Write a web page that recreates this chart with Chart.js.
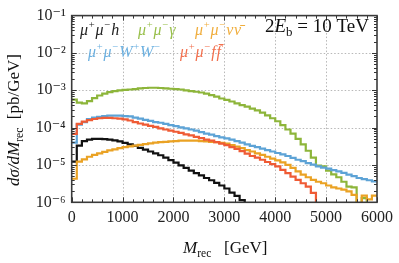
<!DOCTYPE html>
<html><head><meta charset="utf-8">
<script src="https://cdn.jsdelivr.net/npm/chart.js@4.4.1/dist/chart.umd.min.js"></script>
<style>html,body{margin:0;padding:0;background:#fff;}#wrap{width:399px;height:263px;position:relative;}</style>
</head><body><div id="wrap"><canvas id="c" width="399" height="263"></canvas></div>
<script>
// ---- data (dσ/dM_rec in pb/GeV, 100 GeV bins from 0 to 6000 GeV; 0 = empty bin) ----
const BIN_WIDTH = 100;
const X_TICKS = [0, 1000, 2000, 3000, 4000, 5000, 6000];
const Y_TICKS = [1e-6, 1e-5, 1e-4, 1e-3, 1e-2, 1e-1];

const mumuH = [1.23e-5,3.31e-5,4.37e-5,4.79e-5,5.01e-5,5.01e-5,4.90e-5,4.79e-5,4.57e-5,4.27e-5,
  3.89e-5,3.55e-5,3.24e-5,2.88e-5,2.57e-5,2.29e-5,2.04e-5,1.82e-5,1.58e-5,1.35e-5,
  1.15e-5,9.77e-6,8.32e-6,7.08e-6,6.03e-6,5.25e-6,4.47e-6,3.89e-6,3.31e-6,2.82e-6,
  2.34e-6,1.82e-6,1.48e-6,1.15e-6,0,0,0,0,0,0,
  0,0,0,0,0,0,0,0,0,0, 0,0,0,0,0,0,0,0,0,0];
const mumuGamma = [5.62e-4,4.68e-4,4.47e-4,5.13e-4,6.17e-4,7.24e-4,8.13e-4,8.91e-4,9.55e-4,1.00e-3,
  1.02e-3,1.05e-3,1.07e-3,1.12e-3,1.15e-3,1.17e-3,1.17e-3,1.15e-3,1.12e-3,1.10e-3,
  1.07e-3,1.05e-3,1.00e-3,9.55e-4,9.12e-4,8.71e-4,8.13e-4,7.41e-4,6.76e-4,6.03e-4,
  5.50e-4,5.01e-4,4.47e-4,3.98e-4,3.63e-4,3.24e-4,2.88e-4,2.51e-4,2.14e-4,1.78e-4,
  1.48e-4,1.17e-4,8.91e-5,6.92e-5,5.01e-5,3.55e-5,2.40e-5,1.58e-5,9.55e-6,9.12e-6,
  7.08e-6,5.62e-6,4.68e-6,3.55e-6,2.63e-6,2.51e-6,0,1.29e-6,0,0];
const mumuNuNu = [4.27e-6,1.23e-5,1.41e-5,1.66e-5,1.86e-5,2.04e-5,2.24e-5,2.45e-5,2.63e-5,2.82e-5,
  3.02e-5,3.16e-5,3.31e-5,3.47e-5,3.63e-5,3.80e-5,3.98e-5,4.07e-5,4.17e-5,4.27e-5,
  4.37e-5,4.47e-5,4.47e-5,4.47e-5,4.47e-5,4.37e-5,4.27e-5,4.17e-5,4.07e-5,3.89e-5,
  3.72e-5,3.39e-5,3.09e-5,2.82e-5,2.51e-5,2.29e-5,2.04e-5,1.86e-5,1.66e-5,1.48e-5,
  1.32e-5,1.17e-5,1.00e-5,8.32e-6,6.76e-6,5.50e-6,4.68e-6,3.98e-6,3.55e-6,3.24e-6,
  2.82e-6,2.51e-6,2.34e-6,2.19e-6,1.95e-6,1.58e-6,0,1.51e-6,1.20e-6,1.51e-6];
const mumuWW = [3.98e-5,1.20e-4,1.41e-4,1.70e-4,1.86e-4,1.95e-4,2.04e-4,2.09e-4,2.09e-4,2.09e-4,
  2.04e-4,2.00e-4,1.86e-4,1.74e-4,1.62e-4,1.51e-4,1.41e-4,1.35e-4,1.26e-4,1.17e-4,
  1.10e-4,1.02e-4,9.55e-5,8.91e-5,8.32e-5,7.59e-5,6.92e-5,6.46e-5,5.89e-5,5.50e-5,
  5.13e-5,4.79e-5,4.37e-5,3.98e-5,3.55e-5,3.24e-5,3.02e-5,2.75e-5,2.51e-5,2.29e-5,
  2.09e-5,1.91e-5,1.74e-5,1.55e-5,1.38e-5,1.26e-5,1.12e-5,1.02e-5,9.12e-6,8.51e-6,
  7.94e-6,7.24e-6,6.76e-6,6.17e-6,5.50e-6,5.01e-6,4.47e-6,4.17e-6,3.89e-6,3.63e-6];
const mumuFF = [6.76e-5,1.26e-4,1.45e-4,1.58e-4,1.70e-4,1.78e-4,1.82e-4,1.82e-4,1.78e-4,1.74e-4,
  1.66e-4,1.55e-4,1.41e-4,1.29e-4,1.20e-4,1.12e-4,1.05e-4,9.55e-5,8.91e-5,8.32e-5,
  7.76e-5,7.24e-5,6.61e-5,6.17e-5,5.62e-5,5.25e-5,4.79e-5,4.47e-5,4.07e-5,3.72e-5,
  3.39e-5,3.02e-5,2.69e-5,2.34e-5,2.00e-5,1.74e-5,1.58e-5,1.38e-5,1.20e-5,1.05e-5,
  9.12e-6,7.41e-6,6.03e-6,4.90e-6,3.98e-6,3.24e-6,2.63e-6,1.78e-6,0,0,
  0,0,0,0,0,0,0,0,0,0];

const SERIES = [
  {name:'h',  data: mumuH,     color:'#111111'},
  {name:'γ',  data: mumuGamma, color:'#8db53a'},
  {name:'νν̄', data: mumuNuNu,  color:'#eaa224'},
  {name:'WW', data: mumuWW,    color:'#5da3d6'},
  {name:'ff̄', data: mumuFF,    color:'#ef5b35'}
];

// histogram points: value of bin i holds from its lower edge to the next edge
function histPoints(vals){
  const pts = vals.map((v,i)=>({x:i*BIN_WIDTH, y: v>0 ? v : 1e-9}));
  const last = vals[vals.length-1];
  pts.push({x: vals.length*BIN_WIDTH, y: last>0 ? last : 1e-9});
  return pts;
}

const SUP = {'-':'⁻','0':'⁰','1':'¹','2':'²','3':'³','4':'⁴','5':'⁵','6':'⁶','7':'⁷','8':'⁸','9':'⁹'};
const FONT = '"Liberation Serif", "DejaVu Serif", serif';

function drawRich(ctx, x, y, parts, size, gap){
  gap = gap || 0;
  let cx = x;
  for (const [t,k] of parts){
    let fs = size, dy = 0, st = '';
    if (k==='i') st = 'italic ';
    if (k==='sup'){ fs = size*0.66; dy = -size*0.42; }
    if (k==='sub'){ fs = size*0.68; dy = size*0.22; }
    ctx.font = st + fs + 'px ' + FONT;
    ctx.fillText(t, cx, y+dy);
    cx += ctx.measureText(t).width + gap;
  }
  return cx - x;
}

const decor = {
  id:'decor',
  beforeDatasetsDraw(chart){
    const {ctx, chartArea:a, scales:{x,y}} = chart;
    ctx.save();
    ctx.strokeStyle = '#b8b8b8'; ctx.lineWidth = 1; ctx.setLineDash([1.5,2]);
    ctx.beginPath();
    X_TICKS.forEach(t=>{ if(t>x.min && t<x.max){ const p=Math.round(x.getPixelForValue(t))+0.5; ctx.moveTo(p,a.top); ctx.lineTo(p,a.bottom);} });
    Y_TICKS.forEach(t=>{ if(t>y.min && t<y.max){ const p=Math.round(y.getPixelForValue(t))+0.5; ctx.moveTo(a.left,p); ctx.lineTo(a.right,p);} });
    ctx.stroke();
    ctx.restore();
  },
  afterDatasetsDraw(chart){
    const {ctx, chartArea:a, scales:{x,y}} = chart;
    ctx.save();
    // inner ticks
    ctx.strokeStyle = '#333'; ctx.lineWidth = 1;
    ctx.beginPath();
    for (let v = x.min; v <= x.max; v += 200){
      const p = Math.round(x.getPixelForValue(v))+0.5;
      const L = (v % 1000 === 0) ? 5 : 3;
      ctx.moveTo(p,a.bottom); ctx.lineTo(p,a.bottom-L);
      ctx.moveTo(p,a.top); ctx.lineTo(p,a.top+L);
    }
    for (let e = -6; e < -1; e++){
      for (let m = 1; m <= 9; m++){
        const v = m*Math.pow(10,e);
        const p = Math.round(y.getPixelForValue(v))+0.5;
        const L = m===1 ? 5 : 3;
        ctx.moveTo(a.left,p); ctx.lineTo(a.left+L,p);
        ctx.moveTo(a.right,p); ctx.lineTo(a.right-L,p);
      }
    }
    ctx.stroke();
    // frame
    ctx.strokeStyle = '#3a3a3a'; ctx.lineWidth = 1.6;
    ctx.strokeRect(a.left, a.top, a.right-a.left, a.bottom-a.top);

    // annotations
    ctx.textBaseline = 'alphabetic';
    const S = 16, G = 0.8;
    ctx.fillStyle = '#222';
    drawRich(ctx, 80, 35, [['μ','i'],['+','sup'],['μ','i'],['−','sup'],['h','i']], S, G);
    ctx.fillStyle = '#98bf4a';
    drawRich(ctx, 138, 35, [['μ','i'],['+','sup'],['μ','i'],['−','sup'],['γ','i']], S, G);
    ctx.fillStyle = '#f0ad3c';
    drawRich(ctx, 195, 35, [['μ','i'],['+','sup'],['μ','i'],['−','sup'],['ν','i'],['ν̄','i']], S, G);
    ctx.fillStyle = '#6cb0e0';
    drawRich(ctx, 88, 57, [['μ','i'],['+','sup'],['μ','i'],['−','sup'],['W','i'],['+','sup'],['W','i'],['−','sup']], S, G);
    ctx.fillStyle = '#f2704e';
    drawRich(ctx, 180, 57, [['μ','i'],['+','sup'],['μ','i'],['−','sup'],['f','i'],['f̄','i']], S, G);
    ctx.fillStyle = '#111';
    drawRich(ctx, 265, 32, [['2',''],['E','i'],['b','sub'],[' = 10 TeV','']], 19);

    // axis titles
    ctx.fillStyle = '#111';
    drawRich(ctx, 183, 253, [['M','i'],['rec','sub'],['   [GeV]','']], 17);
    ctx.translate(19, 186); ctx.rotate(-Math.PI/2);
    drawRich(ctx, 0, 0, [['dσ/dM','i'],['rec','sub'],['  [pb/GeV]','']], 17);
    ctx.restore();
  }
};

new Chart(document.getElementById('c'), {
  type:'line',
  data:{ datasets: SERIES.map(s=>({
    label: s.name, data: histPoints(s.data), borderColor: s.color, backgroundColor: s.color,
    borderWidth: 2.2, pointRadius: 0, stepped: 'before', tension: 0, fill:false
  })).reverse() },
  options:{
    responsive:false, animation:false, devicePixelRatio:1,
    layout:{ padding:{ left:0, top:12.7, right:19.3, bottom:0 } },
    plugins:{ legend:{display:false}, tooltip:{enabled:false} },
    scales:{
      x:{ type:'linear', min:0, max:6000,
        grid:{display:false, drawTicks:false}, border:{display:false},
        afterBuildTicks: s => { s.ticks = X_TICKS.map(v=>({value:v})); },
        afterFit: s => { s.height = 60.7; },
        ticks:{ autoSkip:false, maxRotation:0, padding:6, color:'#222', font:{family:FONT, size:16},
          callback: v => String(v) } },
      y:{ type:'logarithmic', min:1e-6, max:1e-1,
        grid:{display:false, drawTicks:false}, border:{display:false},
        afterBuildTicks: s => { s.ticks = Y_TICKS.map(v=>({value:v})); },
        afterFit: s => { s.width = 71.7; },
        ticks:{ autoSkip:false, padding:6, color:'#222', font:{family:FONT, size:16},
          callback: v => '10' + String(Math.round(Math.log10(v))).split('').map(c=>SUP[c]).join('') } }
    }
  },
  plugins:[decor]
});
</script></body></html>
